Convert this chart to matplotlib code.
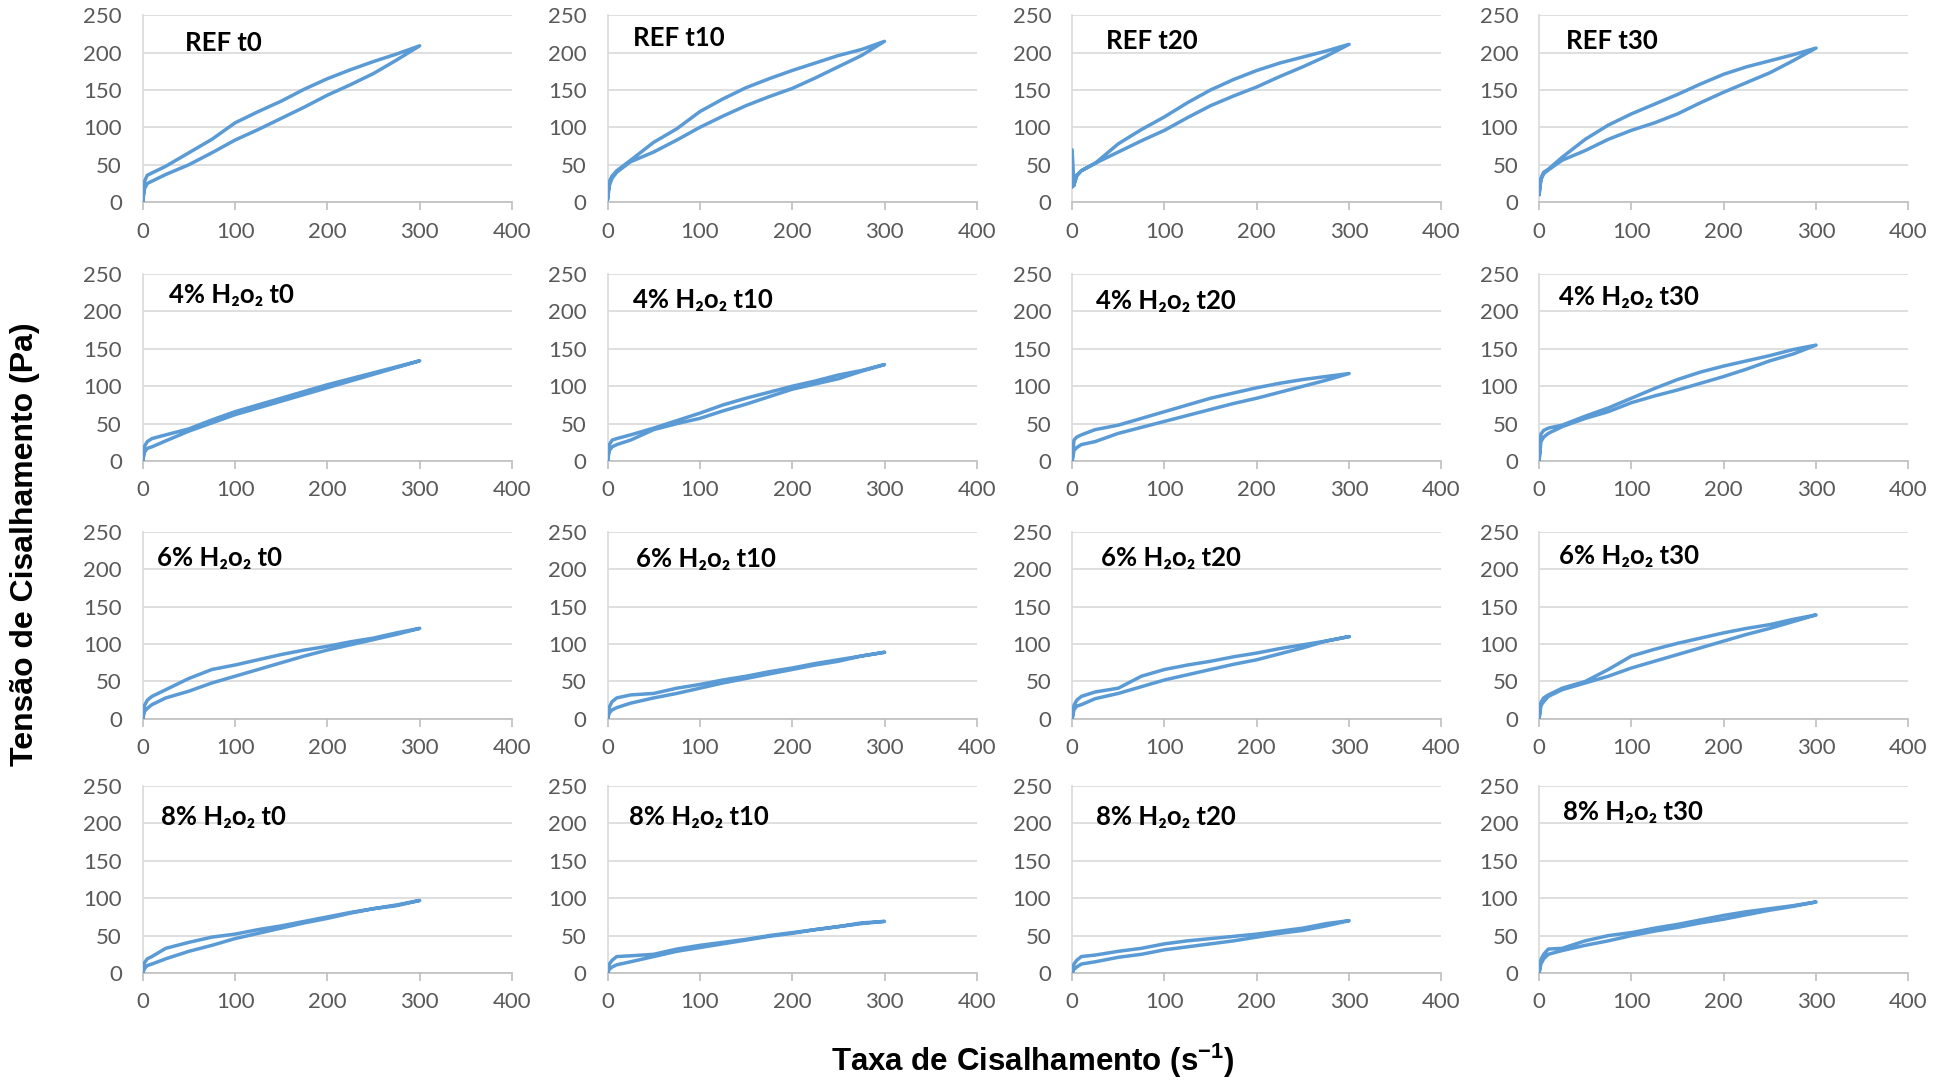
import numpy as np
import matplotlib.pyplot as plt

taxa = [0, 2, 5, 10, 25, 50, 75, 100, 125, 150, 175, 200, 225, 250, 275, 300]

# tensão de cisalhamento (Pa) - curva de subida / curva de descida
ref_t0_sobe = [0, 28, 36, 39, 48, 66, 84, 106, 121, 135, 151, 165, 177, 188, 198, 209]
ref_t0_desce = [0, 18, 25, 28, 37, 50, 66, 83, 97, 112, 127, 143, 157, 172, 190, 209]
ref_t10_sobe = [3, 28, 35, 42, 56, 80, 98, 121, 138, 153, 165, 176, 186, 196, 204, 215]
ref_t10_desce = [3, 22, 32, 40, 54, 67, 83, 100, 115, 129, 141, 152, 166, 181, 196, 215]
ref_t20_sobe = [70, 22, 36, 42, 52, 78, 97, 114, 133, 150, 164, 176, 186, 194, 202, 211]
ref_t20_desce = [20, 25, 35, 42, 52, 67, 82, 96, 113, 129, 142, 154, 168, 181, 195, 211]
ref_t30_sobe = [10, 32, 40, 44, 60, 84, 103, 118, 131, 144, 158, 171, 181, 189, 197, 206]
ref_t30_desce = [10, 30, 38, 43, 56, 69, 84, 96, 106, 118, 133, 147, 160, 173, 189, 206]

h4_t0_sobe = [0, 20, 26, 30, 35, 43, 55, 66, 75, 84, 93, 102, 110, 118, 126, 134]
h4_t0_desce = [0, 12, 17, 19, 27, 40, 51, 62, 71, 80, 89, 98, 107, 116, 125, 134]
h4_t10_sobe = [0, 22, 28, 30, 35, 44, 54, 64, 75, 84, 92, 100, 107, 115, 121, 129]
h4_t10_desce = [0, 14, 19, 22, 28, 42, 50, 57, 67, 76, 86, 96, 103, 110, 120, 129]
h4_t20_sobe = [0, 28, 32, 35, 42, 48, 57, 66, 75, 84, 91, 98, 104, 109, 113, 117]
h4_t20_desce = [0, 14, 18, 22, 26, 37, 45, 53, 61, 69, 77, 84, 92, 100, 108, 117]
h4_t30_sobe = [0, 36, 41, 44, 48, 60, 71, 84, 97, 109, 119, 127, 134, 141, 149, 155]
h4_t30_desce = [0, 26, 32, 37, 46, 57, 66, 78, 87, 95, 104, 113, 123, 134, 143, 155]

h6_t0_sobe = [0, 18, 25, 30, 39, 54, 66, 72, 79, 86, 92, 97, 103, 108, 115, 121]
h6_t0_desce = [0, 10, 14, 19, 28, 37, 48, 57, 66, 75, 84, 92, 99, 106, 113, 121]
h6_t10_sobe = [0, 16, 23, 28, 32, 34, 41, 46, 52, 57, 63, 68, 74, 79, 84, 89]
h6_t10_desce = [0, 8, 12, 15, 21, 28, 34, 41, 48, 54, 60, 66, 72, 77, 84, 89]
h6_t20_sobe = [0, 18, 25, 30, 36, 41, 57, 66, 72, 77, 83, 88, 94, 99, 104, 110]
h6_t20_desce = [0, 12, 17, 19, 27, 34, 43, 52, 59, 66, 73, 79, 87, 95, 104, 110]
h6_t30_sobe = [0, 22, 28, 32, 41, 50, 66, 84, 93, 101, 108, 115, 121, 126, 133, 139]
h6_t30_desce = [0, 18, 23, 30, 39, 48, 57, 68, 77, 86, 95, 104, 113, 121, 130, 139]

h8_t0_sobe = [0, 14, 19, 22, 33, 41, 48, 52, 58, 63, 69, 75, 81, 86, 90, 97]
h8_t0_desce = [0, 6, 10, 12, 19, 29, 37, 46, 53, 60, 67, 73, 80, 86, 91, 97]
h8_t10_sobe = [0, 12, 17, 22, 23, 25, 32, 37, 41, 45, 50, 54, 58, 62, 67, 69]
h8_t10_desce = [0, 5, 8, 11, 15, 22, 29, 34, 39, 44, 49, 53, 58, 62, 66, 69]
h8_t20_sobe = [0, 12, 17, 22, 24, 29, 33, 39, 43, 46, 49, 52, 56, 60, 66, 70]
h8_t20_desce = [0, 5, 8, 12, 15, 21, 25, 31, 35, 39, 43, 48, 53, 57, 63, 70]
h8_t30_sobe = [0, 18, 25, 32, 33, 43, 50, 54, 60, 65, 71, 77, 82, 86, 90, 95]
h8_t30_desce = [0, 12, 19, 25, 30, 37, 43, 50, 56, 61, 67, 72, 78, 84, 89, 95]

titulos = ["REF t0", "REF t10", "REF t20", "REF t30",
           "4% H₂o₂ t0", "4% H₂o₂ t10", "4% H₂o₂ t20", "4% H₂o₂ t30",
           "6% H₂o₂ t0", "6% H₂o₂ t10", "6% H₂o₂ t20", "6% H₂o₂ t30",
           "8% H₂o₂ t0", "8% H₂o₂ t10", "8% H₂o₂ t20", "8% H₂o₂ t30"]

curvas = [(ref_t0_sobe, ref_t0_desce), (ref_t10_sobe, ref_t10_desce),
          (ref_t20_sobe, ref_t20_desce), (ref_t30_sobe, ref_t30_desce),
          (h4_t0_sobe, h4_t0_desce), (h4_t10_sobe, h4_t10_desce),
          (h4_t20_sobe, h4_t20_desce), (h4_t30_sobe, h4_t30_desce),
          (h6_t0_sobe, h6_t0_desce), (h6_t10_sobe, h6_t10_desce),
          (h6_t20_sobe, h6_t20_desce), (h6_t30_sobe, h6_t30_desce),
          (h8_t0_sobe, h8_t0_desce), (h8_t10_sobe, h8_t10_desce),
          (h8_t20_sobe, h8_t20_desce), (h8_t30_sobe, h8_t30_desce)]

# posição do título dentro de cada gráfico (fração dos eixos)
pos_titulos = [(0.114, 0.85), (0.07, 0.877), (0.092, 0.86), (0.073, 0.86),
               (0.07, 0.888), (0.068, 0.86), (0.065, 0.855), (0.053, 0.875),
               (0.04, 0.86), (0.077, 0.855), (0.078, 0.86), (0.053, 0.87),
               (0.05, 0.835), (0.057, 0.835), (0.065, 0.835), (0.065, 0.86)]

azul = '#5B9BD5'
cinza_txt = '#595959'
cinza_grade = '#D9D9D9'

fig = plt.figure(figsize=(19.44, 10.81), dpi=100)

esquerdas = [0.0734, 0.3125, 0.5515, 0.7917]
bases = [0.813, 0.5735, 0.335, 0.0999]
larg, alt = 0.190, 0.173

for k in range(16):
    lin, col = divmod(k, 4)
    ax = fig.add_axes([esquerdas[col], bases[lin], larg, alt])
    sobe, desce = curvas[k]
    x = list(taxa) + list(taxa[::-1])
    y = list(sobe) + list(desce[::-1])
    ax.plot(x, y, color=azul, lw=2.5, solid_joinstyle='round', solid_capstyle='round', zorder=3)

    ax.set_xlim(0, 400)
    ax.set_ylim(0, 250)
    ax.set_xticks(np.arange(0, 401, 100))
    ax.set_yticks(np.arange(0, 251, 50))
    ax.grid(axis='y', color=cinza_grade, lw=1.2)
    ax.set_axisbelow(True)
    for s in ['top', 'right']:
        ax.spines[s].set_visible(False)
    ax.spines['left'].set_color(cinza_grade)
    ax.spines['left'].set_linewidth(1.2)
    ax.spines['bottom'].set_color('#BFBFBF')
    ax.spines['bottom'].set_linewidth(1.2)
    ax.tick_params(axis='x', direction='out', length=6, width=1.2, color='#BFBFBF',
                   labelsize=16, labelcolor=cinza_txt, pad=8)
    ax.tick_params(axis='y', length=0, labelsize=16, labelcolor=cinza_txt, pad=15)
    for lab in ax.get_xticklabels() + ax.get_yticklabels():
        lab.set_family(['Lato', 'DejaVu Sans'])

    tx, ty = pos_titulos[k]
    ax.text(tx, ty, titulos[k], transform=ax.transAxes, fontsize=18.5, fontweight='bold',
            family=['Lato', 'DejaVu Sans'], ha='left', va='center', color='black')

plt.rcParams['mathtext.fontset'] = 'custom'
plt.rcParams['mathtext.rm'] = 'Liberation Sans'
plt.rcParams['mathtext.bf'] = 'Liberation Sans:bold'

fig.text(0.0128, 0.497, 'Tensão de Cisalhamento (Pa)', rotation=90, ha='center', va='center',
         fontsize=23, fontweight='bold', family='Liberation Sans')
fig.text(0.531, 0.019, r'Taxa de Cisalhamento (s$^{\mathbf{-1}}$)', ha='center', va='center',
         fontsize=22.5, fontweight='bold', family='Liberation Sans')

fig.savefig('out.png', dpi=100)
